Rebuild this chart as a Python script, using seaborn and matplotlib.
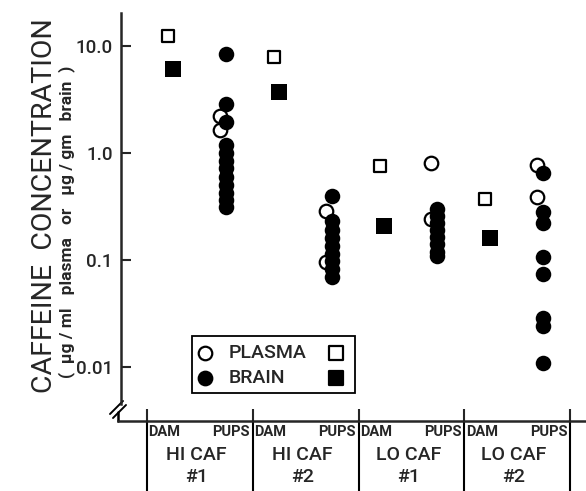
"""
Caffeine concentration in dams and pups (plasma vs brain), log scale.
"""

import matplotlib.pyplot as plt
import matplotlib.transforms as mtransforms
from matplotlib.patches import Rectangle
import pandas as pd
import seaborn as sns

# groups along the x axis
group_names = ["HI CAF", "HI CAF", "LO CAF", "LO CAF"]
group_nums = ["#1", "#2", "#1", "#2"]

# dam values (one per group), ug/ml plasma or ug/gm brain
dam_plasma = [12.5, 7.9, 0.76, 0.37]
dam_brain = [6.1, 3.7, 0.21, 0.16]

# pup values (several per group)
pups_plasma = [
    [2.2, 1.65],
    [0.29, 0.096],
    [0.81, 0.24],
    [0.78, 0.39],
]
pups_brain = [
    [8.5, 2.9, 1.95, 1.2, 1.0, 0.85, 0.72, 0.6, 0.5, 0.42, 0.36, 0.31],
    [0.40, 0.23, 0.19, 0.16, 0.135, 0.115, 0.097, 0.082, 0.07],
    [0.30, 0.26, 0.22, 0.19, 0.165, 0.14, 0.12, 0.11],
    [0.65, 0.28, 0.22, 0.107, 0.074, 0.029, 0.024, 0.011],
]

yticks = [0.01, 0.1, 1.0, 10.0]
ytick_labels = ["0.01", "0.1", "1.0", "10.0"]

# horizontal offsets inside a group
OFFSET = {("dam", "plasma"): 0.20, ("dam", "brain"): 0.245,
          ("pups", "plasma"): 0.69, ("pups", "brain"): 0.745}


def build_frame() -> pd.DataFrame:
    rows = []
    for g in range(len(group_names)):
        rows.append((g, "dam", "plasma", dam_plasma[g]))
        rows.append((g, "dam", "brain", dam_brain[g]))
        for v in pups_plasma[g]:
            rows.append((g, "pups", "plasma", v))
        for v in pups_brain[g]:
            rows.append((g, "pups", "brain", v))
    df = pd.DataFrame(rows, columns=["group", "who", "tissue", "value"])
    df["x"] = [g + OFFSET[(w, t)] for g, w, t in zip(df.group, df.who, df.tissue)]
    return df


def main() -> None:
    df = build_frame()

    sns.set_style("ticks")
    plt.rcParams["font.family"] = ["Roboto", "DejaVu Sans"]
    plt.rcParams["font.weight"] = "medium"

    W, H = 586, 491
    fig = plt.figure(figsize=(W / 100, H / 100), dpi=100)
    ax_l, ax_r, ax_t, ax_b = 121, 586, 13, 421
    ax = fig.add_axes([ax_l / W, 1 - ax_b / H, (ax_r - ax_l) / W, (ax_b - ax_t) / H])
    axw, axh = ax_r - ax_l, ax_b - ax_t

    styles = [
        ("dam", "plasma", "s", "white", 1.6, 85),
        ("pups", "plasma", "o", "white", 1.6, 95),
        ("dam", "brain", "s", "black", 0, 120),
        ("pups", "brain", "o", "black", 0, 125),
    ]
    for who, tissue, marker, face, lw, size in styles:
        sub = df[(df.who == who) & (df.tissue == tissue)]
        sns.scatterplot(data=sub, x="x", y="value", marker=marker, s=size,
                        color=face, edgecolor="black", linewidth=lw, ax=ax,
                        legend=False, zorder=3)

    ax.set_yscale("log")
    ax.set_ylim(10 ** ((153 - ax_b) / 107), 10 ** ((153 - ax_t) / 107))
    ax.set_xlim(-26 / 105.75, (ax_r - 147) / 105.75)
    ax.set_yticks(yticks)
    ax.set_yticklabels(ytick_labels, fontsize=13.5)
    ax.minorticks_off()
    ax.set_xticks(range(len(group_names) + 1))
    ax.set_xticklabels([])
    ax.set_xlabel("")
    ax.set_ylabel("")
    ax.tick_params(axis="y", direction="in", length=7, width=1.5, pad=6)
    ax.tick_params(axis="x", direction="in", length=9, width=1.5)

    for side in ("top", "right"):
        ax.spines[side].set_visible(False)
    ax.spines["left"].set_linewidth(1.8)
    ax.spines["bottom"].set_linewidth(1.8)
    ax.spines["bottom"].set_bounds(ax.get_xlim()[0] - 0.03, ax.get_xlim()[1])
    ax.spines["left"].set_bounds(10 ** ((153 - 404) / 107), ax.get_ylim()[1])

    # axis break
    def px(x, y):
        return ((x - ax_l) / axw, (ax_b - y) / axh)

    for (x0, y0), (x1, y1) in [((110, 414), (123, 401)), ((113, 418), (126, 405))]:
        a, b = px(x0, y0), px(x1, y1)
        ax.plot([a[0], b[0]], [a[1], b[1]], color="black", lw=1.4,
                transform=ax.transAxes, clip_on=False)
    a, b = px(118, 412), px(118, 421)
    ax.plot([a[0], b[0]], [a[1], b[1]], color="black", lw=1.8,
            transform=ax.transAxes, clip_on=False)

    # group dividers below the axis and labels
    trans = mtransforms.blended_transform_factory(ax.transData, ax.transAxes)
    low = -(H - ax_b + 5) / axh
    for g in range(len(group_names) + 1):
        ax.plot([g, g], [0, low], color="black", lw=1.5, transform=trans,
                clip_on=False)
    for g in range(len(group_names)):
        ax.text(g + 0.015, -11 / axh, "DAM", transform=trans, ha="left",
                va="center", fontsize=10.5, fontweight="bold")
        ax.text(g + 0.975, -11 / axh, "PUPS", transform=trans, ha="right",
                va="center", fontsize=10.5, fontweight="bold")
        ax.text(g + 0.47, -34 / axh, group_names[g], transform=trans,
                ha="center", va="center", fontsize=14)
        ax.text(g + 0.47, -56 / axh, group_nums[g], transform=trans,
                ha="center", va="center", fontsize=14)

    # legend box
    bx0, by0 = px(192, 393)
    bx1, by1 = px(355, 336)
    ax.add_patch(Rectangle((bx0, by0), bx1 - bx0, by1 - by0, fill=False,
                           lw=1.3, edgecolor="black", transform=ax.transAxes))
    for yy, face, label in [(353, "white", "PLASMA"), (378, "black", "BRAIN")]:
        cx, cy = px(205, yy)
        ax.scatter([cx], [cy], marker="o", s=95, color=face, edgecolor="black",
                   linewidth=1.6, transform=ax.transAxes)
        sx, _ = px(336, yy)
        ax.scatter([sx], [cy], marker="s", s=95, color=face, edgecolor="black",
                   linewidth=1.6, transform=ax.transAxes)
        tx, _ = px(229, yy)
        ax.text(tx, cy, label, transform=ax.transAxes, ha="left", va="center",
                fontsize=14)

    fig.text(44 / W, 1 - 206 / H, "CAFFEINE  CONCENTRATION", rotation=90,
             ha="center", va="center", fontsize=20.5, fontweight="normal")
    fig.text(67 / W, 1 - 222 / H,
             "(  \u03bcg / ml   plasma   or   \u03bcg / gm   brain  )",
             rotation=90, ha="center", va="center", fontsize=12.5,
             fontweight="bold")

    fig.savefig("out.png", dpi=100)
    plt.close(fig)


if __name__ == "__main__":
    main()
